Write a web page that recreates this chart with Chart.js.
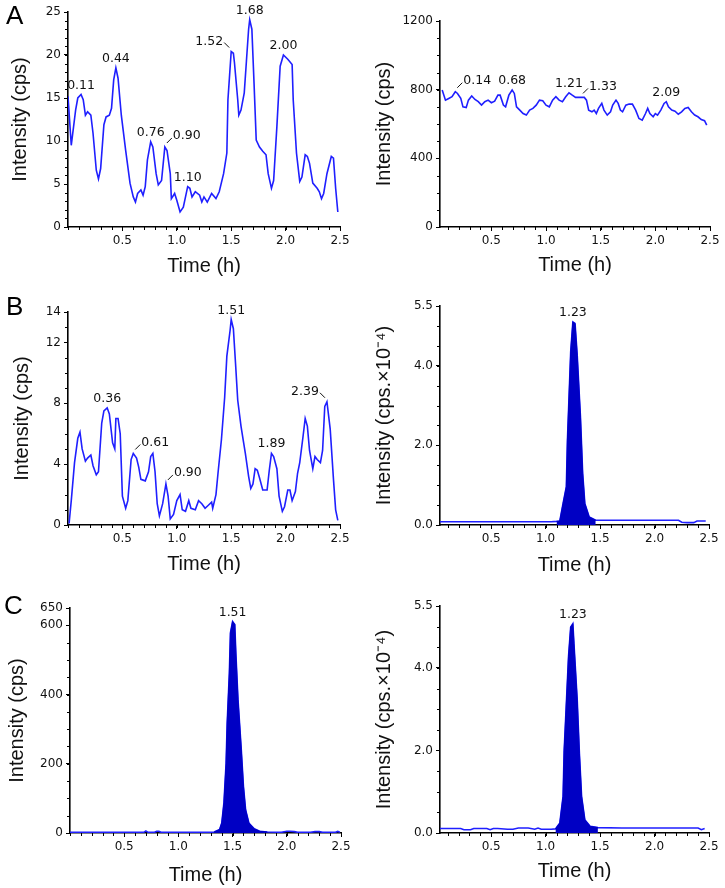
<!DOCTYPE html>
<html>
<head>
<meta charset="utf-8">
<script src="https://cdn.jsdelivr.net/npm/chart.js@4.4.1/dist/chart.umd.min.js"></script>
<style>
  body { margin: 0; background: #fff; }
  #page { position: relative; width: 725px; height: 888px; overflow: hidden; }
  .cell { position: absolute; }
  .letter { position: absolute; font-family: "Liberation Sans", Arial, sans-serif; font-size: 26px; line-height: 1; color: #000; }
</style>
</head>
<body>
<div id="page">
  <div class="cell" style="left:0;top:0;width:362px;height:290px"><canvas id="chart-a1"></canvas></div>
  <div class="cell" style="left:362px;top:0;width:363px;height:290px"><canvas id="chart-a2"></canvas></div>
  <div class="cell" style="left:0;top:290px;width:362px;height:300px"><canvas id="chart-b1"></canvas></div>
  <div class="cell" style="left:362px;top:290px;width:363px;height:300px"><canvas id="chart-b2"></canvas></div>
  <div class="cell" style="left:0;top:590px;width:362px;height:298px"><canvas id="chart-c1"></canvas></div>
  <div class="cell" style="left:362px;top:590px;width:363px;height:298px"><canvas id="chart-c2"></canvas></div>
  <div class="letter" style="left:6px;top:2px">A</div>
  <div class="letter" style="left:6px;top:293px">B</div>
  <div class="letter" style="left:4px;top:592px">C</div>
</div>

<script>
// --- data (waktu dalam jam, intensitas cps) ---

// A kiri
const aLeftTime = [0.00, 0.03, 0.07, 0.09, 0.12, 0.14, 0.16, 0.18, 0.21, 0.23, 0.26, 0.28, 0.30, 0.33, 0.35, 0.38, 0.40, 0.42, 0.44, 0.46, 0.49, 0.53, 0.57, 0.60, 0.62, 0.64, 0.67, 0.69, 0.71, 0.73, 0.76, 0.78, 0.81, 0.83, 0.86, 0.89, 0.91, 0.94, 0.95, 0.98, 1.00, 1.03, 1.06, 1.10, 1.12, 1.14, 1.17, 1.21, 1.23, 1.25, 1.28, 1.32, 1.36, 1.39, 1.43, 1.46, 1.47, 1.50, 1.52, 1.53, 1.56, 1.57, 1.59, 1.62, 1.64, 1.66, 1.67, 1.69, 1.71, 1.73, 1.76, 1.79, 1.82, 1.84, 1.87, 1.89, 1.92, 1.95, 1.98, 2.02, 2.06, 2.07, 2.10, 2.13, 2.15, 2.18, 2.20, 2.22, 2.25, 2.29, 2.31, 2.33, 2.35, 2.38, 2.42, 2.44, 2.46, 2.48]
const aLeftIntensity = [15.2, 9.5, 13.6, 15.0, 15.4, 14.8, 13.0, 13.4, 13.0, 10.9, 6.6, 5.6, 6.8, 11.9, 12.8, 13.0, 13.8, 17.1, 18.5, 17.3, 13.0, 8.9, 5.1, 3.5, 2.9, 3.9, 4.3, 3.7, 4.7, 7.8, 9.9, 9.3, 6.2, 4.9, 5.4, 9.3, 8.9, 6.2, 3.3, 3.9, 3.1, 1.75, 2.3, 4.7, 4.5, 3.5, 4.1, 3.7, 2.9, 3.5, 2.9, 3.9, 3.3, 4.1, 6.2, 8.6, 14.8, 20.4, 20.2, 19.1, 14.8, 13.0, 13.6, 15.6, 19.3, 23.0, 24.1, 23.0, 16.7, 10.1, 9.3, 8.8, 8.4, 6.2, 4.5, 5.4, 11.7, 18.7, 20.0, 19.5, 18.9, 14.8, 8.6, 5.3, 5.8, 8.4, 8.2, 7.4, 5.1, 4.5, 4.1, 3.3, 3.9, 6.2, 8.2, 8.0, 4.5, 1.75]
const aLeftPeaks = [0.11, 0.44, 0.76, 0.90, 1.10, 1.52, 1.68, 2.00]
const aLeftLeaders = ['', '', '', 'r', '', 'l', '', '']
const aLeftYTicks = [0, 5, 10, 15, 20, 25]

// A kanan
const aRightTime = [0.05, 0.08, 0.11, 0.14, 0.17, 0.19, 0.22, 0.24, 0.27, 0.29, 0.32, 0.35, 0.38, 0.41, 0.44, 0.47, 0.50, 0.53, 0.56, 0.58, 0.61, 0.63, 0.66, 0.69, 0.71, 0.73, 0.76, 0.79, 0.82, 0.85, 0.88, 0.91, 0.94, 0.97, 1.00, 1.03, 1.06, 1.09, 1.12, 1.15, 1.18, 1.21, 1.24, 1.27, 1.32, 1.35, 1.37, 1.39, 1.42, 1.44, 1.46, 1.48, 1.51, 1.53, 1.56, 1.59, 1.61, 1.64, 1.66, 1.68, 1.70, 1.73, 1.76, 1.79, 1.82, 1.85, 1.88, 1.91, 1.93, 1.95, 1.98, 2.00, 2.02, 2.05, 2.08, 2.10, 2.12, 2.15, 2.18, 2.21, 2.24, 2.27, 2.30, 2.33, 2.36, 2.39, 2.42, 2.45, 2.47]
const aRightIntensity = [798, 739, 749, 759, 788, 778, 749, 700, 696, 739, 763, 743, 730, 710, 730, 739, 724, 733, 768, 768, 710, 700, 768, 798, 778, 700, 681, 661, 652, 681, 691, 710, 739, 735, 710, 700, 739, 759, 739, 730, 759, 782, 768, 755, 755, 755, 739, 681, 671, 681, 661, 691, 720, 681, 652, 671, 710, 739, 720, 681, 671, 710, 716, 716, 681, 632, 622, 661, 691, 661, 642, 661, 652, 681, 720, 730, 700, 681, 675, 657, 671, 691, 696, 671, 652, 642, 626, 619, 593]
const aRightPeaks = [0.14, 0.68, 1.21, 1.33, 2.09]
const aRightLeaders = ['r', '', '', 'r', '']
const aRightYTicks = [0, 400, 800, 1200]

// B kiri
const bLeftTime = [0.01, 0.03, 0.06, 0.09, 0.11, 0.13, 0.16, 0.18, 0.21, 0.23, 0.26, 0.28, 0.31, 0.33, 0.36, 0.38, 0.41, 0.43, 0.44, 0.46, 0.48, 0.50, 0.53, 0.55, 0.58, 0.60, 0.63, 0.65, 0.67, 0.71, 0.74, 0.76, 0.78, 0.80, 0.82, 0.84, 0.87, 0.90, 0.92, 0.94, 0.97, 1.00, 1.03, 1.05, 1.08, 1.11, 1.13, 1.17, 1.20, 1.23, 1.26, 1.29, 1.32, 1.33, 1.36, 1.38, 1.41, 1.44, 1.46, 1.49, 1.50, 1.52, 1.54, 1.56, 1.59, 1.61, 1.63, 1.66, 1.68, 1.70, 1.72, 1.74, 1.76, 1.79, 1.83, 1.85, 1.87, 1.89, 1.92, 1.94, 1.97, 1.99, 2.02, 2.04, 2.06, 2.09, 2.11, 2.13, 2.16, 2.18, 2.20, 2.22, 2.25, 2.27, 2.29, 2.32, 2.34, 2.36, 2.38, 2.41, 2.44, 2.46, 2.48]
const bLeftIntensity = [0.1, 1.6, 4.1, 5.7, 6.1, 5.0, 4.2, 4.4, 4.6, 3.9, 3.3, 3.5, 6.7, 7.5, 7.7, 7.3, 5.4, 5.0, 7.0, 7.0, 6.0, 1.9, 1.1, 1.6, 4.3, 4.7, 4.4, 3.8, 3.0, 2.9, 3.5, 4.5, 4.7, 3.5, 1.4, 0.6, 1.4, 2.7, 1.9, 0.4, 0.7, 1.6, 2.0, 1.0, 0.9, 1.6, 1.1, 1.0, 1.6, 1.4, 1.1, 1.3, 1.5, 1.1, 2.0, 3.5, 5.6, 8.4, 11.1, 12.8, 13.5, 12.9, 10.6, 8.2, 6.5, 5.6, 4.7, 3.2, 2.4, 2.7, 3.7, 3.6, 3.1, 2.3, 2.3, 3.6, 4.7, 4.5, 3.7, 1.9, 0.9, 1.2, 2.3, 2.3, 1.6, 2.2, 3.4, 4.1, 5.8, 7.0, 6.5, 4.9, 3.7, 4.5, 4.3, 4.1, 4.9, 7.8, 8.1, 6.3, 3.0, 1.0, 0.3]
const bLeftPeaks = [0.36, 0.61, 0.90, 1.51, 1.89, 2.39]
const bLeftLeaders = ['', 'r', 'r', '', '', 'l']
const bLeftYTicks = [0, 4, 8, 12, 14]

// B kanan (x10^4 cps)
const bRightTime = [0.03, 0.30, 0.60, 0.90, 1.05, 1.10, 1.13, 1.16, 1.19, 1.20, 1.23, 1.25, 1.27, 1.29, 1.32, 1.34, 1.36, 1.40, 1.46, 1.60, 1.90, 2.22, 2.25, 2.30, 2.36, 2.39, 2.47]
const bRightIntensity = [0.08, 0.08, 0.08, 0.08, 0.08, 0.09, 0.10, 0.54, 0.96, 2.13, 4.35, 5.10, 5.06, 4.26, 2.70, 1.30, 0.54, 0.20, 0.12, 0.12, 0.12, 0.12, 0.07, 0.06, 0.06, 0.10, 0.10]
const bRightPeakWindow = [1.10, 1.46]
const bRightPeaks = [1.23]
const bRightLeaders = ['']
const bRightYTicks = [0, 2, 4, 5.5]

// C kiri
const cLeftTime = [0.00, 0.30, 0.60, 0.68, 0.70, 0.72, 0.78, 0.80, 0.82, 0.84, 1.00, 1.20, 1.30, 1.33, 1.38, 1.40, 1.42, 1.44, 1.45, 1.47, 1.48, 1.50, 1.52, 1.53, 1.55, 1.58, 1.60, 1.62, 1.65, 1.70, 1.75, 1.82, 1.95, 2.00, 2.03, 2.07, 2.10, 2.22, 2.26, 2.30, 2.33, 2.45, 2.47, 2.49]
const cLeftIntensity = [2, 2, 2, 2, 6, 2, 2, 5, 5, 2, 2, 2, 2, 3, 10, 29, 87, 202, 318, 462, 578, 611, 602, 520, 385, 241, 135, 67, 29, 12, 5, 3, 2, 5, 5, 4, 2, 2, 4, 4, 2, 2, 5, 2]
const cLeftPeakWindow = [1.33, 1.82]
const cLeftPeaks = [1.51]
const cLeftLeaders = ['']
const cLeftYTicks = [0, 200, 400, 600, 650]

// C kanan (x10^4 cps)
const cRightTime = [0.03, 0.22, 0.25, 0.31, 0.34, 0.46, 0.49, 0.52, 0.56, 0.65, 0.70, 0.75, 0.84, 0.90, 0.93, 0.96, 1.05, 1.09, 1.13, 1.16, 1.17, 1.21, 1.23, 1.25, 1.26, 1.29, 1.31, 1.33, 1.36, 1.41, 1.48, 1.70, 2.00, 2.30, 2.40, 2.43, 2.46]
const cRightIntensity = [0.11, 0.11, 0.08, 0.08, 0.11, 0.11, 0.08, 0.11, 0.11, 0.09, 0.09, 0.12, 0.12, 0.09, 0.12, 0.09, 0.09, 0.10, 0.24, 0.89, 2.00, 4.27, 4.99, 5.07, 4.59, 3.22, 1.93, 0.89, 0.32, 0.16, 0.13, 0.12, 0.12, 0.12, 0.12, 0.08, 0.11]
const cRightPeakWindow = [1.09, 1.48]
const cRightPeaks = [1.23]
const cRightLeaders = ['']
const cRightYTicks = [0, 2, 4, 5.5]

const timeTicks = [0.5, 1.0, 1.5, 2.0, 2.5]

// --- gaya ---
const LINE_BLUE = '#1f1fff'
const FILL_BLUE = '#0000c4'
const TITLE_FONT = { family: '"Liberation Sans", Arial, sans-serif', size: 20, lineHeight: 1.2 }
const TICK_FONT = { family: '"DejaVu Sans", Verdana, sans-serif', size: 12 }

function toPoints(xs, ys) {
  return xs.map((x, i) => ({ x: x, y: ys[i] }))
}

// Plugin: tick minor di sumbu
const minorTicks = {
  id: 'minorTicks',
  afterDraw(chart, args, opts) {
    const { ctx, chartArea } = chart
    const x = chart.scales.x
    const y = chart.scales.y
    ctx.save()
    ctx.strokeStyle = '#000'
    ctx.lineWidth = 1
    ctx.beginPath()
    for (let i = Math.ceil(x.min / opts.xStep - 1e-6); i * opts.xStep <= x.max + 1e-9; i++) {
      const px = Math.round(x.getPixelForValue(i * opts.xStep)) + 0.5
      ctx.moveTo(px, chartArea.bottom)
      ctx.lineTo(px, chartArea.bottom + 3)
    }
    for (let i = Math.ceil(y.min / opts.yStep - 1e-6); i * opts.yStep <= y.max + 1e-9; i++) {
      const py = Math.round(y.getPixelForValue(i * opts.yStep)) + 0.5
      ctx.moveTo(chartArea.left, py)
      ctx.lineTo(chartArea.left - 3, py)
    }
    ctx.stroke()
    ctx.restore()
  }
}

// Plugin: label waktu puncak
const peakLabels = {
  id: 'peakLabels',
  afterDatasetsDraw(chart, args, opts) {
    const { ctx } = chart
    const x = chart.scales.x
    const y = chart.scales.y
    ctx.save()
    ctx.font = '12.5px "DejaVu Sans", Verdana, sans-serif'
    ctx.fillStyle = '#111'
    ctx.strokeStyle = '#111'
    ctx.lineWidth = 1
    opts.peaks.forEach((t, k) => {
      // cari titik tertinggi di sekitar waktu puncak
      let best = null
      opts.points.forEach(p => {
        if (Math.abs(p.x - t) <= 0.031 && (!best || p.y > best.y)) best = p
      })
      if (!best) return
      const px = x.getPixelForValue(best.x)
      const py = y.getPixelForValue(best.y)
      const text = t.toFixed(2)
      const leader = opts.leaders[k]
      if (leader === 'r') {
        ctx.beginPath()
        ctx.moveTo(px + 2, py - 4)
        ctx.lineTo(px + 7, py - 9)
        ctx.stroke()
        ctx.textAlign = 'left'
        ctx.textBaseline = 'middle'
        ctx.fillText(text, px + 8, py - 11)
      } else if (leader === 'l') {
        ctx.beginPath()
        ctx.moveTo(px - 2, py - 4)
        ctx.lineTo(px - 7, py - 9)
        ctx.stroke()
        ctx.textAlign = 'right'
        ctx.textBaseline = 'middle'
        ctx.fillText(text, px - 8, py - 10)
      } else {
        ctx.textAlign = 'center'
        ctx.textBaseline = 'bottom'
        ctx.fillText(text, px, py - 3)
      }
    })
    ctx.restore()
  }
}

function makeChart(id, p) {
  const points = toPoints(p.time, p.values)
  const datasets = []
  if (p.peakWindow) {
    datasets.push({
      data: points.filter(pt => pt.x >= p.peakWindow[0] && pt.x <= p.peakWindow[1]),
      borderColor: FILL_BLUE,
      backgroundColor: FILL_BLUE,
      borderWidth: 1,
      fill: 'origin',
      pointRadius: 0,
      tension: 0
    })
  }
  datasets.push({
    data: points,
    borderColor: LINE_BLUE,
    borderWidth: 1.6,
    fill: false,
    pointRadius: 0,
    tension: 0
  })

  const cell = p.cell
  const area = p.area

  return new Chart(document.getElementById(id), {
    type: 'line',
    data: { datasets: datasets },
    options: {
      responsive: true,
      maintainAspectRatio: false,
      animation: false,
      events: [],
      layout: {
        padding: { left: 0, top: area.t - cell.top, right: cell.left + cell.w - area.r, bottom: 0 }
      },
      plugins: {
        legend: { display: false },
        tooltip: { enabled: false },
        minorTicks: { xStep: 0.1, yStep: p.yMinor },
        peakLabels: { peaks: p.peaks, leaders: p.leaders, points: points }
      },
      scales: {
        x: {
          type: 'linear',
          min: p.xMin,
          max: 2.5,
          afterFit: s => { s.height = cell.top + cell.h - area.b },
          afterBuildTicks: s => { s.ticks = timeTicks.map(v => ({ value: v })) },
          ticks: {
            callback: v => Number(v).toFixed(1),
            font: TICK_FONT,
            color: '#111',
            padding: 3,
            maxRotation: 0,
            autoSkip: false
          },
          grid: { drawOnChartArea: false, tickLength: 4, tickColor: '#000', tickWidth: 1 },
          border: { color: '#000', width: 1.6 },
          title: {
            display: true,
            text: 'Time (h)',
            font: TITLE_FONT,
            color: '#111',
            padding: { top: 0, bottom: p.xTitleOffset - 12 }
          }
        },
        y: {
          min: 0,
          max: p.yMax,
          afterFit: s => { s.width = area.l - cell.left },
          afterBuildTicks: s => { s.ticks = p.yTicks.map(v => ({ value: v })) },
          ticks: {
            callback: v => p.yDecimals ? Number(v).toFixed(p.yDecimals) : String(v),
            font: TICK_FONT,
            color: '#111',
            padding: 3,
            autoSkip: false
          },
          grid: { drawOnChartArea: false, tickLength: 4, tickColor: '#000', tickWidth: 1 },
          border: { color: '#000', width: 1.6 },
          title: {
            display: true,
            text: p.yTitle,
            font: TITLE_FONT,
            color: '#111',
            padding: { top: p.yTitleX - 12, bottom: 0 }
          }
        }
      }
    },
    plugins: [minorTicks, peakLabels]
  })
}

window.addEventListener('load', () => {
  makeChart('chart-a1', {
    time: aLeftTime, values: aLeftIntensity, peaks: aLeftPeaks, leaders: aLeftLeaders,
    yMax: 25, yTicks: aLeftYTicks, yMinor: 1, xMin: 0,
    yTitle: 'Intensity (cps)', yTitleX: 20, xTitleOffset: 24,
    cell: { left: 0, top: 0, w: 362, h: 290 }, area: { l: 68, t: 12, r: 340, b: 227 }
  })
  makeChart('chart-a2', {
    time: aRightTime, values: aRightIntensity, peaks: aRightPeaks, leaders: aRightLeaders,
    yMax: 1200, yTicks: aRightYTicks, yMinor: 100, xMin: 0.03,
    yTitle: 'Intensity (cps)', yTitleX: 22, xTitleOffset: 25,
    cell: { left: 362, top: 0, w: 363, h: 290 }, area: { l: 440, t: 21, r: 710, b: 227 }
  })
  makeChart('chart-b1', {
    time: bLeftTime, values: bLeftIntensity, peaks: bLeftPeaks, leaders: bLeftLeaders,
    yMax: 14, yTicks: bLeftYTicks, yMinor: 1, xMin: 0,
    yTitle: 'Intensity (cps)', yTitleX: 22, xTitleOffset: 26,
    cell: { left: 0, top: 290, w: 362, h: 300 }, area: { l: 68, t: 312, r: 340, b: 525 }
  })
  makeChart('chart-b2', {
    time: bRightTime, values: bRightIntensity, peakWindow: bRightPeakWindow, peaks: bRightPeaks, leaders: bRightLeaders,
    yMax: 5.5, yTicks: bRightYTicks, yMinor: 0.5, yDecimals: 1, xMin: 0.03,
    yTitle: 'Intensity (cps.×10⁻⁴)', yTitleX: 22, xTitleOffset: 25,
    cell: { left: 362, top: 290, w: 363, h: 300 }, area: { l: 440, t: 306, r: 709, b: 525 }
  })
  makeChart('chart-c1', {
    time: cLeftTime, values: cLeftIntensity, peakWindow: cLeftPeakWindow, peaks: cLeftPeaks, leaders: cLeftLeaders,
    yMax: 650, yTicks: cLeftYTicks, yMinor: 50, xMin: 0,
    yTitle: 'Intensity (cps)', yTitleX: 17, xTitleOffset: 13,
    cell: { left: 0, top: 590, w: 362, h: 298 }, area: { l: 70, t: 608, r: 341, b: 833 }
  })
  makeChart('chart-c2', {
    time: cRightTime, values: cRightIntensity, peakWindow: cRightPeakWindow, peaks: cRightPeaks, leaders: cRightLeaders,
    yMax: 5.5, yTicks: cRightYTicks, yMinor: 0.5, yDecimals: 1, xMin: 0.03,
    yTitle: 'Intensity (cps.×10⁻⁴)', yTitleX: 22, xTitleOffset: 17,
    cell: { left: 362, top: 590, w: 363, h: 298 }, area: { l: 440, t: 606, r: 709, b: 833 }
  })
})
</script>
</body>
</html>
